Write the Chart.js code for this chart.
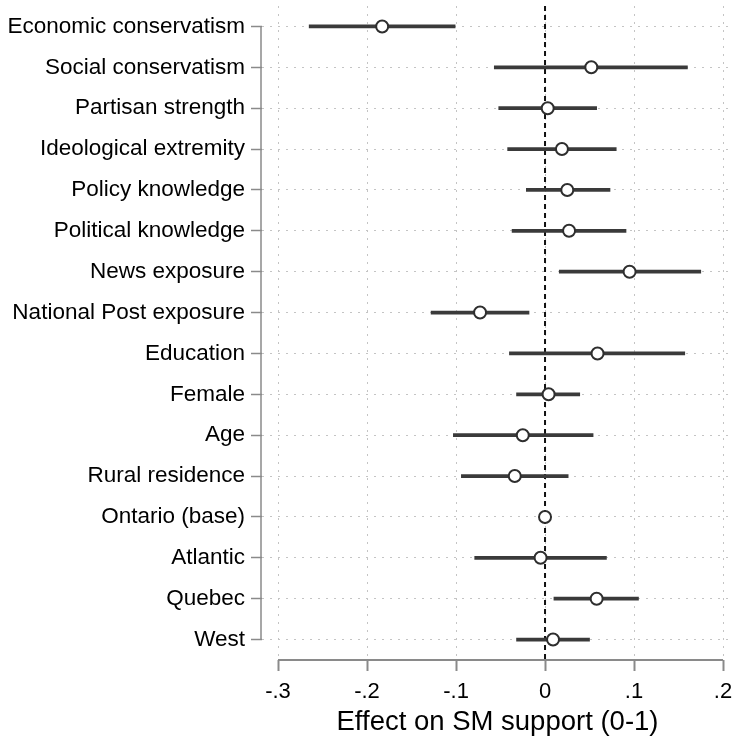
<!DOCTYPE html>
<html>
<head>
<meta charset="utf-8">
<title>Effect on SM support</title>
<script src="https://cdn.jsdelivr.net/npm/chart.js@4"></script>
<style>
  html, body { margin: 0; padding: 0; background: #fff; overflow: hidden; }
  #wrap { width: 733px; height: 742px; position: relative; }
</style>
</head>
<body>
<div id="wrap"><canvas id="coefChart"></canvas></div>
<script>
// Coefficient plot data
const labels = [
    'Economic conservatism', 'Social conservatism', 'Partisan strength', 'Ideological extremity',
    'Policy knowledge', 'Political knowledge', 'News exposure', 'National Post exposure',
    'Education', 'Female', 'Age', 'Rural residence',
    'Ontario (base)', 'Atlantic', 'Quebec', 'West'
];
const estimates = [-0.183, 0.052, 0.003, 0.019, 0.025, 0.027, 0.095, -0.073,
                   0.059, 0.004, -0.025, -0.034, 0, -0.005, 0.058, 0.009];
const lower = [-0.265, -0.057, -0.052, -0.042, -0.021, -0.037, 0.016, -0.128,
               -0.040, -0.032, -0.103, -0.094, null, -0.079, 0.010, -0.032];
const upper = [-0.101, 0.160, 0.058, 0.080, 0.073, 0.091, 0.175, -0.018,
               0.157, 0.039, 0.054, 0.026, null, 0.069, 0.105, 0.050];
const xTickValues = [-0.3, -0.2, -0.1, 0, 0.1, 0.2];
const xTickLabels = ['-.3', '-.2', '-.1', '0', '.1', '.2'];

const FONT = "'Liberation Sans', Arial, Helvetica, sans-serif";
const AXIS_GREY = '#8a8a8a';
const GRID_GREY = '#c4c4c4';

// confidence intervals as floating bars
const ciData = lower.map((lo, i) => (lo === null ? null : [lo, upper[i]]));

// zero reference line + Stata-like axis lines (spanning first..last tick only)
const refLines = {
    id: 'refLines',
    beforeDatasetsDraw(chart) {
        const { ctx, chartArea, scales } = chart;
        const x0 = scales.x.getPixelForValue(0);
        ctx.save();
        ctx.strokeStyle = '#111';
        ctx.lineWidth = 2;
        ctx.setLineDash([5, 4]);
        ctx.beginPath();
        ctx.moveTo(x0, chartArea.top);
        ctx.lineTo(x0, chartArea.bottom);
        ctx.stroke();

        ctx.setLineDash([]);
        ctx.strokeStyle = AXIS_GREY;
        // y axis
        const yTop = scales.y.getPixelForValue(0);
        const yBot = scales.y.getPixelForValue(labels.length - 1);
        ctx.lineWidth = 1.5;
        ctx.beginPath();
        ctx.moveTo(chartArea.left - 1, yTop);
        ctx.lineTo(chartArea.left - 1, yBot);
        ctx.stroke();
        // x axis
        const xl = scales.x.getPixelForValue(xTickValues[0]);
        const xr = scales.x.getPixelForValue(xTickValues[xTickValues.length - 1]);
        ctx.lineWidth = 2;
        ctx.beginPath();
        ctx.moveTo(xl, chartArea.bottom);
        ctx.lineTo(xr, chartArea.bottom);
        ctx.stroke();
        ctx.restore();
    }
};

const ctx = document.getElementById('coefChart');
new Chart(ctx, {
    type: 'bar',
    data: {
        labels: labels,
        datasets: [
            {
                label: 'Estimate',
                type: 'line',
                indexAxis: 'y',
                data: estimates,
                showLine: false,
                pointStyle: 'circle',
                pointRadius: 6,
                pointBorderWidth: 2,
                pointBorderColor: '#2e2e2e',
                pointBackgroundColor: '#fff',
                order: 0
            },
            {
                label: '95% CI',
                data: ciData,
                backgroundColor: '#3a3a3a',
                borderWidth: 0,
                borderSkipped: false,
                barThickness: 3,
                order: 1
            }
        ]
    },
    options: {
        indexAxis: 'y',
        responsive: true,
        maintainAspectRatio: false,
        animation: false,
        layout: { autoPadding: false, padding: { top: 6, right: 0, bottom: 0, left: 0 } },
        plugins: {
            legend: { display: false },
            tooltip: { enabled: false }
        },
        scales: {
            x: {
                type: 'linear',
                min: -0.318,
                max: 0.2112,
                afterBuildTicks: (scale) => {
                    scale.ticks = xTickValues.map(v => ({ value: v }));
                },
                afterFit: (scale) => {
                    scale.height = 82;
                    scale.paddingLeft = 0;
                    scale.paddingRight = 0;
                },
                ticks: {
                    color: '#000',
                    font: { family: FONT, size: 22 },
                    padding: 8,
                    maxRotation: 0,
                    callback: (value, index) => xTickLabels[index]
                },
                grid: {
                    color: GRID_GREY,
                    lineWidth: 1,
                    drawTicks: true,
                    tickLength: 11,
                    tickColor: AXIS_GREY,
                    tickWidth: 2,
                    tickBorderDash: []
                },
                border: { display: false, dash: [2, 6] },
                title: {
                    display: true,
                    text: 'Effect on SM support (0-1)',
                    color: '#000',
                    font: { family: FONT, size: 27.5 },
                    padding: { top: 0, bottom: 3 }
                }
            },
            y: {
                type: 'category',
                offset: true,
                afterFit: (scale) => {
                    scale.width = 262;
                    scale.paddingTop = 0;
                    scale.paddingBottom = 0;
                },
                ticks: {
                    color: '#000',
                    font: { family: FONT, size: 22.5 },
                    padding: 6,
                    autoSkip: false
                },
                grid: {
                    offset: false,
                    color: GRID_GREY,
                    lineWidth: 1,
                    drawTicks: true,
                    tickLength: 11,
                    tickColor: AXIS_GREY,
                    tickWidth: 1.5,
                    tickBorderDash: []
                },
                border: { display: false, dash: [2, 6] }
            }
        }
    },
    plugins: [refLines]
});
</script>
</body>
</html>
